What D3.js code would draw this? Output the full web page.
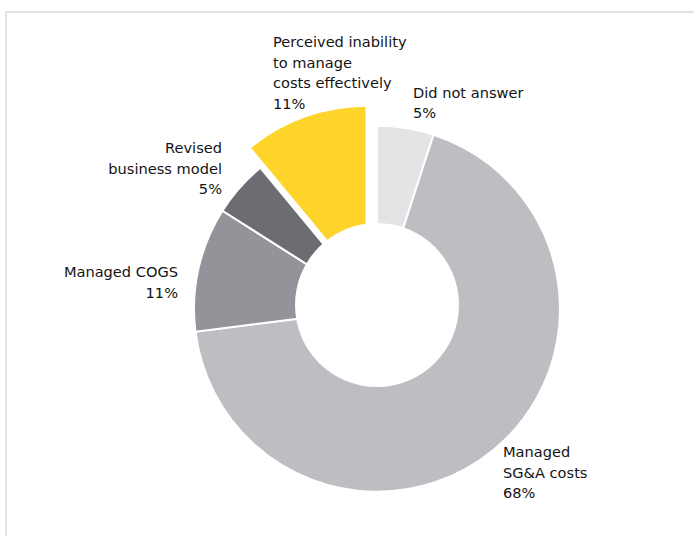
<!DOCTYPE html>
<html>
<head>
<meta charset="utf-8">
<script src="https://cdn.jsdelivr.net/npm/d3@7/dist/d3.min.js"></script>
<style>
  html, body { margin: 0; padding: 0; background: #fff; }
  svg { display: block; }
  text { font-family: "DejaVu Sans", sans-serif; font-size: 14.6px; fill: #141414; }
</style>
</head>
<body>
<svg id="chart" width="694" height="536"></svg>
<script>
// Share of respondents by answer, clockwise from 12 o'clock
const categories = [
  "Did not answer",
  "Managed SG&A costs",
  "Managed COGS",
  "Revised business model",
  "Perceived inability to manage costs effectively"
];
const values = [5, 68, 11, 5, 11];
const colors = ["#e4e4e6", "#bcbec2", "#939499", "#6b6d73", "#fed42b"];

// Label lines for each slice (the value line is appended below)
const labelLines = [
  ["Did not answer"],
  ["Managed", "SG&A costs"],
  ["Managed COGS"],
  ["Revised", "business model"],
  ["Perceived inability", "to manage", "costs effectively"]
];
const highlighted = 4; // slice pulled out of the ring

const svg = d3.select("#chart");

// light frame along the top and left
svg.append("path")
  .attr("d", "M6,536 V12 H694")
  .attr("fill", "none")
  .attr("stroke", "#e4e4e4")
  .attr("stroke-width", 2);

const cx = 377, cy = 308.8, R = 183;
const holeCx = 377, holeCy = 305, holeR = 82;

const pie = d3.pie().sort(null).value(d => d).startAngle(0).endAngle(2 * Math.PI);
const arcs = pie(values);
const arc = d3.arc().innerRadius(0).outerRadius(R);

const g = svg.append("g").attr("transform", `translate(${cx},${cy})`);

g.selectAll("path.slice")
  .data(arcs)
  .join("path")
  .attr("class", "slice")
  .attr("d", arc)
  .attr("fill", (d, i) => colors[i])
  .attr("stroke", "#fff")
  .attr("stroke-width", 2)
  .attr("stroke-linejoin", "miter")
  .attr("transform", (d, i) => i === highlighted ? "translate(-10.5,-20)" : null);

// centre hole
svg.append("circle")
  .attr("cx", holeCx).attr("cy", holeCy).attr("r", holeR)
  .attr("fill", "#fff");

// label anchors: x, first baseline, alignment
const labelPos = [
  { x: 413, y: 97.5, anchor: "start" },
  { x: 503, y: 457, anchor: "start" },
  { x: 178, y: 277, anchor: "end" },
  { x: 222, y: 153, anchor: "end" },
  { x: 273, y: 47, anchor: "start" }
];
const lineH = 20.5;

labelLines.forEach((lines, i) => {
  const p = labelPos[i];
  const t = svg.append("text")
    .attr("x", p.x).attr("y", p.y)
    .attr("text-anchor", p.anchor);
  lines.concat([values[i] + "%"]).forEach((s, k) => {
    t.append("tspan")
      .attr("x", p.x)
      .attr("y", p.y + k * lineH)
      .text(s);
  });
});
</script>
</body>
</html>
